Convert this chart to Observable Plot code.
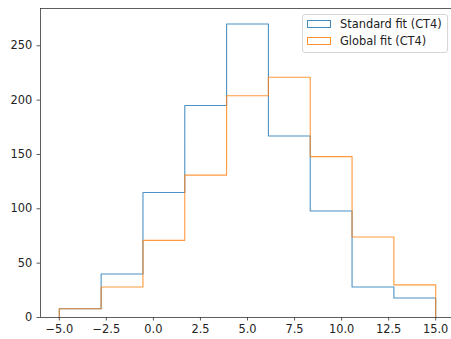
<!DOCTYPE html>
<html>
<head>
<meta charset="utf-8">
<script src="https://cdn.jsdelivr.net/npm/d3@7"></script>
<script src="https://cdn.jsdelivr.net/npm/@observablehq/plot@0.6"></script>
<style>
  html, body { margin: 0; padding: 0; background: #fff; overflow: hidden; }
  #wrap { position: relative; width: 451px; height: 339px; }
  #legend {
    position: absolute; left: 302px; top: 14px; width: 146px; height: 39px;
    border: 1px solid #d6d6d6; border-radius: 3px; background: rgba(255,255,255,0.8);
    font-family: "DejaVu Sans", sans-serif; font-size: 11.4px; color: #222;
    box-sizing: border-box;
  }
  .sw { position: absolute; left: 4px; width: 24px; height: 8px; box-sizing: border-box; }
  .lbl { position: absolute; left: 37px; line-height: 14px; white-space: nowrap; }
</style>
</head>
<body>
<div id="wrap">
  <div id="chart"></div>
  <div id="legend">
    <div class="sw" style="top:5px;border:1px solid #1f77b4;opacity:0.85"></div>
    <div class="lbl" style="top:2px">Standard fit (CT4)</div>
    <div class="sw" style="top:22px;border:1px solid #ff7f0e;opacity:0.85"></div>
    <div class="lbl" style="top:19px">Global fit (CT4)</div>
  </div>
</div>
<script>
const binEdges = [-5, -2.778, -0.556, 1.667, 3.889, 6.111, 8.333, 10.556, 12.778, 15];
const standardCounts = [8, 40, 115, 195, 270, 167, 98, 28, 18];
const globalCounts = [8, 28, 71, 131, 204, 221, 148, 74, 30];
const seriesNames = ["Standard fit (CT4)", "Global fit (CT4)"];
const seriesColors = ["#1f77b4", "#ff7f0e"];
const xTicks = [-5, -2.5, 0, 2.5, 5, 7.5, 10, 12.5, 15];
const yTicks = [0, 50, 100, 150, 200, 250];

function outline(counts, name) {
  const pts = [{x: binEdges[0], y: 0, s: name}];
  counts.forEach((c, i) => pts.push({x: binEdges[i], y: c, s: name}));
  pts.push({x: binEdges[binEdges.length - 1], y: 0, s: name});
  return pts;
}
const data = [...outline(standardCounts, seriesNames[0]), ...outline(globalCounts, seriesNames[1])];

const xDomain = [-6, 15.84];
const yDomain = [0, 284.3];
const fmt = d => (d < 0 ? "\u2212" : "") + Math.abs(d).toFixed(1);

const chart = Plot.plot({
  width: 451,
  height: 339,
  marginLeft: 40,
  marginRight: 0,
  marginTop: 8,
  marginBottom: 22,
  style: {fontFamily: "DejaVu Sans, sans-serif", fontSize: "11.4px", color: "#222", background: "#fff"},
  x: {domain: xDomain, label: null},
  y: {domain: yDomain, label: null},
  color: {domain: seriesNames, range: seriesColors},
  marks: [
    Plot.axisX({ticks: xTicks, tickFormat: fmt, tickSize: 3.5, tickPadding: 4, stroke: "#333", strokeWidth: 0.8}),
    Plot.axisY({ticks: yTicks, tickFormat: d => String(d), tickSize: 3.5, tickPadding: 4.8, stroke: "#333", strokeWidth: 0.8}),
    Plot.lineY(data, {x: "x", y: "y", z: "s", stroke: "s", curve: "step-after", strokeWidth: 1.1, strokeOpacity: 0.8}),
    Plot.ruleX([xDomain[0]], {stroke: "#333", strokeWidth: 0.8}),
    Plot.ruleY([yDomain[0], yDomain[1]], {stroke: "#333", strokeWidth: 0.8})
  ]
});
document.getElementById("chart").appendChild(chart);
</script>
</body>
</html>
